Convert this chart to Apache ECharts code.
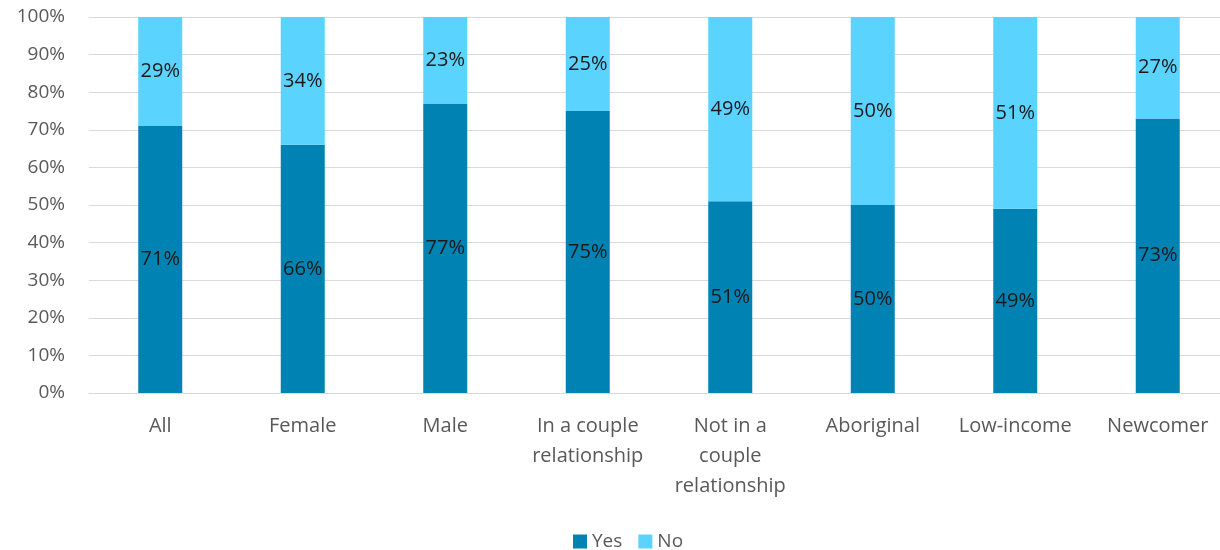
<!DOCTYPE html>
<html><head><meta charset="utf-8">
<script src="https://cdn.jsdelivr.net/npm/echarts@6/dist/echarts.min.js"></script>
<style>html,body{margin:0;padding:0;background:#fff}#c{width:1220px;height:550px}</style>
</head><body><div id="c"></div>
<script>
const categories = ['All','Female','Male','In a couple\nrelationship','Not in a\ncouple\nrelationship','Aboriginal','Low-income','Newcomer'];
const yesValues = [71,66,77,75,51,50,49,73];
const noValues = [29,34,23,25,49,50,51,27];
const yTicks = [0,10,20,30,40,50,60,70,80,90,100];

const font = '"Open Sans", "Noto Sans", sans-serif';
const chart = echarts.init(document.getElementById('c'), null, {renderer:'canvas'});
const lbl = {show:true, position:'inside', formatter: p => p.value + '%', color:'#1a1a1a', fontSize:20, fontFamily:font};
chart.setOption({
  animation:false,
  textStyle:{fontFamily:font},
  grid:{left:89, top:17, width:1140, height:376, containLabel:false, outerBoundsMode:'none'},
  xAxis:{type:'category', data:categories,
    axisLine:{show:true, lineStyle:{color:'#d9d9d9'}}, axisTick:{show:false},
    axisLabel:{color:'#595959', fontSize:20, lineHeight:30, margin:18, interval:0, fontFamily:font}},
  yAxis:{type:'value', min:yTicks[0], max:yTicks[yTicks.length-1], interval:10,
    axisLabel:{formatter:'{value}%', color:'#595959', fontSize:19, margin:24, fontFamily:font},
    splitLine:{lineStyle:{color:'#d9d9d9', width:1}}, axisLine:{show:false}, axisTick:{show:false}},
  legend:{top:527, left:568, itemWidth:14, itemHeight:14, itemGap:16,
    icon:'rect', textStyle:{color:'#595959', fontSize:19, fontFamily:font}, data:['Yes','No']},
  series:[
    {name:'Yes', type:'bar', stack:'s', data:yesValues, barWidth:44, itemStyle:{color:'#0083B3'}, label:lbl},
    {name:'No', type:'bar', stack:'s', data:noValues, barWidth:44, itemStyle:{color:'#5BD3FF'}, label:lbl}
  ]
});
</script></body></html>
